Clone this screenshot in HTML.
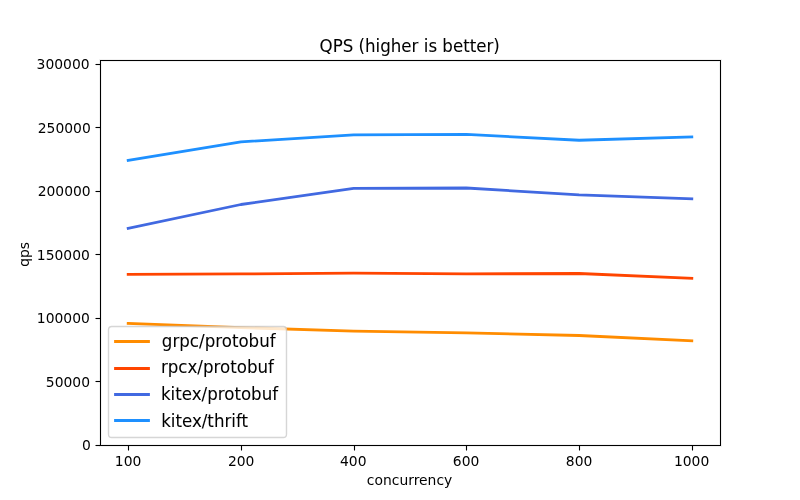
<!DOCTYPE html><html><head><meta charset="utf-8"><title>QPS (higher is better)</title><style>
html,body{margin:0;padding:0;background:#fff;width:800px;height:500px;overflow:hidden}
svg{display:block;will-change:transform}
text{font-family:"DejaVu Sans", "Liberation Sans", sans-serif;fill:#000}
.t{font-size:13.889px}.ti{font-size:16.667px;stroke:#000;stroke-width:0.06px}.lg{font-size:16.667px;stroke:#000;stroke-width:0.06px}
</style></head><body>
<svg width="800" height="500" viewBox="0 0 800 500">
<rect x="0" y="0" width="800" height="500" fill="#fff"/>
<g fill="#f1f1f1">
<rect x="99" y="59" width="3" height="388"/><rect x="719" y="59" width="3" height="388"/>
<rect x="99" y="59" width="623" height="3"/><rect x="99" y="444" width="623" height="3"/>
</g>
<g stroke="#000" stroke-width="1.111" fill="none">
<line x1="128.500" y1="445.5" x2="128.500" y2="450.5"/>
<line x1="241.500" y1="445.5" x2="241.500" y2="450.5"/>
<line x1="354.500" y1="445.5" x2="354.500" y2="450.5"/>
<line x1="466.500" y1="445.5" x2="466.500" y2="450.5"/>
<line x1="579.500" y1="445.5" x2="579.500" y2="450.5"/>
<line x1="692.500" y1="445.5" x2="692.500" y2="450.5"/>
<line x1="100.5" y1="445.500" x2="95.5" y2="445.500"/>
<line x1="100.5" y1="381.500" x2="95.5" y2="381.500"/>
<line x1="100.5" y1="318.500" x2="95.5" y2="318.500"/>
<line x1="100.5" y1="254.500" x2="95.5" y2="254.500"/>
<line x1="100.5" y1="191.500" x2="95.5" y2="191.500"/>
<line x1="100.5" y1="127.500" x2="95.5" y2="127.500"/>
<line x1="100.5" y1="64.500" x2="95.5" y2="64.500"/>
</g>
<text class="t" transform="translate(128.068 465.703)" text-anchor="middle">100</text>
<text class="t" transform="translate(241.202 465.699)" text-anchor="middle">200</text>
<text class="t" transform="translate(353.225 465.646)" text-anchor="middle">400</text>
<text class="t" transform="translate(466.051 465.563)" text-anchor="middle">600</text>
<text class="t" transform="translate(579.059 465.501)" text-anchor="middle">800</text>
<text class="t" transform="translate(691.612 465.725)" text-anchor="middle">1000</text>
<text class="t" transform="translate(90.862 449.537)" text-anchor="end">0</text>
<text class="t" transform="translate(90.000 386.745)" text-anchor="end">50000</text>
<text class="t" transform="translate(89.824 322.660)" text-anchor="end">100000</text>
<text class="t" transform="translate(89.825 260.402)" text-anchor="end">150000</text>
<text class="t" transform="translate(90.614 195.574)" text-anchor="end">200000</text>
<text class="t" transform="translate(90.727 132.529)" text-anchor="end">250000</text>
<text class="t" transform="translate(89.559 68.733)" text-anchor="end">300000</text>
<text class="t" transform="translate(409.543 484.740)" text-anchor="middle">concurrency</text>
<text class="t" transform="translate(28.571 254.379) rotate(-90)" text-anchor="middle">qps</text>
<polyline points="128.182,323.400 240.909,327.600 353.636,331.150 466.364,332.800 579.091,335.500 691.818,340.800" fill="none" stroke="#ff8c00" stroke-width="2.778" stroke-linecap="square" stroke-linejoin="round"/>
<polyline points="128.182,274.400 240.909,273.900 353.636,273.100 466.364,273.900 579.091,273.500 691.818,278.400" fill="none" stroke="#ff4500" stroke-width="2.778" stroke-linecap="square" stroke-linejoin="round"/>
<polyline points="128.182,228.400 240.909,204.500 353.636,188.400 466.364,188.000 579.091,194.850 691.818,198.900" fill="none" stroke="#4169e1" stroke-width="2.778" stroke-linecap="square" stroke-linejoin="round"/>
<polyline points="128.182,160.400 240.909,141.900 353.636,134.900 466.364,134.400 579.091,140.250 691.818,136.900" fill="none" stroke="#1e90ff" stroke-width="2.778" stroke-linecap="square" stroke-linejoin="round"/>
<g fill="#000">
<rect x="100" y="60" width="1" height="386"/><rect x="720" y="60" width="1" height="386"/>
<rect x="100" y="60" width="621" height="1"/><rect x="100" y="445" width="621" height="1"/>
</g>
<text class="ti" transform="translate(409.693 51.632) scale(1 1.090)" text-anchor="middle">QPS (higher is better)</text>
<rect x="108.5" y="326.5" width="178" height="111" rx="3.333" ry="3.333" fill="#fff" stroke="#ccc" stroke-width="1.389" opacity="0.8"/>
<line x1="115.5" y1="341.500" x2="148.5" y2="341.500" stroke="#ff8c00" stroke-width="2.778" stroke-linecap="square"/>
<text class="lg" transform="translate(161.870 346.718) scale(1 1.090)">grpc/protobuf</text>
<line x1="115.5" y1="368.500" x2="148.5" y2="368.500" stroke="#ff4500" stroke-width="2.778" stroke-linecap="square"/>
<text class="lg" transform="translate(160.887 372.569) scale(1 1.090)">rpcx/protobuf</text>
<line x1="115.5" y1="394.500" x2="148.5" y2="394.500" stroke="#4169e1" stroke-width="2.778" stroke-linecap="square"/>
<text class="lg" transform="translate(160.910 399.651) scale(1 1.090)">kitex/protobuf</text>
<line x1="115.5" y1="420.500" x2="148.5" y2="420.500" stroke="#1e90ff" stroke-width="2.778" stroke-linecap="square"/>
<text class="lg" transform="translate(161.135 426.709) scale(1 1.090)">kitex/thrift</text>
</svg></body></html>
